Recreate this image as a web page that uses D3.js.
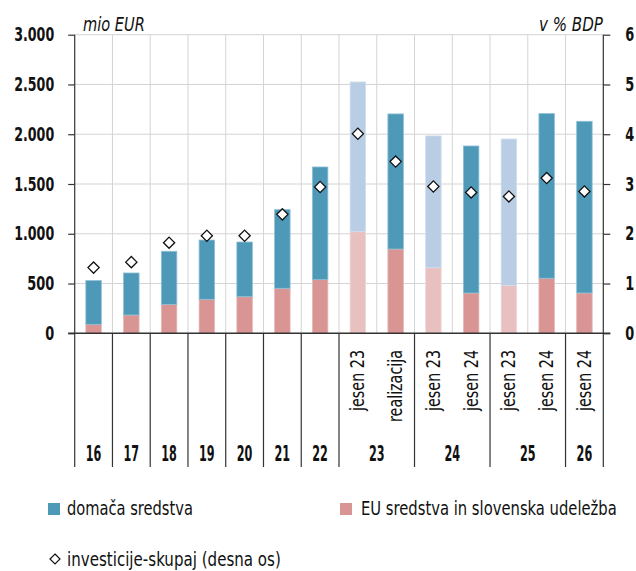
<!DOCTYPE html>
<html>
<head>
<meta charset="utf-8">
<script src="https://cdn.jsdelivr.net/npm/d3@7"></script>
<style>
  html, body { margin: 0; padding: 0; background: #fff; }
  svg { display: block; }
  text { font-family: "DejaVu Sans Condensed", "DejaVu Sans", sans-serif; font-stretch: condensed; fill: #111; }
</style>
</head>
<body>
<svg id="chart" width="636" height="571"></svg>
<script>
// ---- data ----
const barKeys = ["16","17","18","19","20","21","22","23a","23b","24a","24b","25a","25b","26"];
const subLabels = ["","","","","","","","jesen 23","realizacija","jesen 23","jesen 24","jesen 23","jesen 24","jesen 24"];
const groupLabels = ["16","17","18","19","20","21","22","23","24","25","26"];
const groupSizes  = [1,1,1,1,1,1,1,2,2,2,1];
const euFunds  = [90,184,291,342,368,452,539,1021,847,659,405,482,553,405];
const domestic = [440,422,533,595,549,790,1132,1504,1357,1324,1477,1470,1654,1725];
const investGDP = [1.32,1.43,1.82,1.96,1.96,2.39,2.94,4.01,3.45,2.95,2.83,2.75,3.12,2.85];
const olderForecast = [false,false,false,false,false,false,false,true,false,true,false,true,false,false];
const leftTicks = [0,500,1000,1500,2000,2500,3000];
const rightTicks = [0,1,2,3,4,5,6];
const seriesNames = ["domača sredstva","EU sredstva in slovenska udeležba","investicije-skupaj (desna os)"];

// ---- layout ----
const svg = d3.select("#chart");
const L = 74.7, R = 603.3, T = 34.7, B = 333.3, xBottom = 467;
const colBlue = "#4e98b8", colPink = "#d99594", colBlueLight = "#b9cde4", colPinkLight = "#e8c0c0";

// squeeze text horizontally (about its anchor) to the narrow width of the original condensed typeface
function digitWidth(s, dw, pw) {
  let w = 0;
  for (const c of s) w += (c === "." ? pw : dw);
  return w;
}
function squeeze(sel, w) {
  sel.each(function () {
    const n = this.getComputedTextLength();
    if (!n) return;
    const target = typeof w === "function" ? w.apply(this, arguments) : w;
    const s = target / n;
    const xa = +this.getAttribute("x") || 0;
    const ya = +this.getAttribute("y") || 0;
    const prev = this.getAttribute("transform") || "";
    this.setAttribute("transform", `${prev} translate(${xa},${ya}) scale(${s},1) translate(${-xa},${-ya})`.trim());
  });
}

const x = d3.scaleBand().domain(barKeys).range([L, R]).padding(0);
const y = d3.scaleLinear().domain([0, 3000]).range([B, T]);
const y2 = d3.scaleLinear().domain([0, 6]).range([B, T]);
const bw = x.bandwidth() * 0.41;

// grid
const grid = svg.append("g");
grid.selectAll("line.h").data(leftTicks.filter(d => d > 0)).join("line")
  .attr("x1", L).attr("x2", R).attr("y1", d => y(d)).attr("y2", d => y(d))
  .attr("stroke", "#d4d4d4").attr("stroke-width", 1);
grid.selectAll("line.v").data(barKeys.slice(1)).join("line")
  .attr("x1", d => x(d)).attr("x2", d => x(d)).attr("y1", T).attr("y2", B)
  .attr("stroke", "#d4d4d4").attr("stroke-width", 1);

// bars
const bars = svg.append("g");
barKeys.forEach((k, i) => {
  const cx = x(k) + x.bandwidth() / 2;
  const light = olderForecast[i];
  bars.append("rect")
    .attr("x", cx - bw / 2).attr("width", bw)
    .attr("y", y(euFunds[i])).attr("height", y(0) - y(euFunds[i]))
    .attr("fill", light ? colPinkLight : colPink)
    .attr("stroke", light ? "#f0d6d6" : "#e6b7b6").attr("stroke-width", 0.8);
  bars.append("rect")
    .attr("x", cx - bw / 2).attr("width", bw)
    .attr("y", y(euFunds[i] + domestic[i])).attr("height", y(euFunds[i]) - y(euFunds[i] + domestic[i]))
    .attr("fill", light ? colBlueLight : colBlue)
    .attr("stroke", light ? "#d0deee" : "#8cc0d6").attr("stroke-width", 0.8);
});

// axes
const yAxisL = d3.axisLeft(y).tickValues(leftTicks).tickSize(6.5).tickPadding(14)
  .tickFormat(d => d3.format(",")(d).replace(/,/g, "."));
const gL = svg.append("g").attr("transform", `translate(${L},0)`).call(yAxisL);
const yAxisR = d3.axisRight(y2).tickValues(rightTicks).tickSize(7).tickPadding(15)
  .tickFormat(d3.format("d"));
const gR = svg.append("g").attr("transform", `translate(${R},0)`).call(yAxisR);
[gL, gR].forEach(g => {
  g.attr("font-family", null).attr("font-size", null);
  g.select(".domain").remove();
  g.selectAll(".tick line").attr("stroke", "#333").attr("stroke-width", 1.2);
  g.selectAll(".tick text").attr("font-size", 19).attr("font-weight", "bold").attr("fill", "#111")
    .call(squeeze, function () { return digitWidth(this.textContent, 9, 4); });
});
// axis lines
svg.append("line").attr("x1", L).attr("x2", L).attr("y1", T).attr("y2", xBottom).attr("stroke", "#333").attr("stroke-width", 1.2);
svg.append("line").attr("x1", R).attr("x2", R).attr("y1", T).attr("y2", xBottom).attr("stroke", "#333").attr("stroke-width", 1.2);
svg.append("line").attr("x1", L - 6.5).attr("x2", R + 7).attr("y1", B).attr("y2", B).attr("stroke", "#333").attr("stroke-width", 1.4);

// group separators below axis
let idx = 0;
const groupInfo = groupLabels.map((g, gi) => {
  const start = x(barKeys[idx]);
  idx += groupSizes[gi];
  const end = idx < barKeys.length ? x(barKeys[idx]) : R;
  return { label: g, start, end };
});
svg.append("g").selectAll("line").data(groupInfo.slice(1)).join("line")
  .attr("x1", d => d.start).attr("x2", d => d.start).attr("y1", B).attr("y2", xBottom)
  .attr("stroke", "#333").attr("stroke-width", 1.2);
svg.append("g").selectAll("text").data(groupInfo).join("text")
  .attr("x", d => (d.start + d.end) / 2).attr("y", 461)
  .attr("text-anchor", "middle").attr("font-size", 22).attr("font-weight", 600)
  .text(d => d.label)
  .call(squeeze, d => d.label.length * 7.8);

// rotated sub labels
svg.append("g").selectAll("text").data(barKeys.map((k, i) => ({ k, t: subLabels[i] })).filter(d => d.t)).join("text")
  .attr("transform", d => `translate(${x(d.k) + x.bandwidth() / 2 + 6.5},350) rotate(-90)`)
  .attr("text-anchor", "end").attr("font-size", 19).text(d => d.t)
  .call(squeeze, d => d.t === "realizacija" ? 72 : 61);

// diamonds
const dh = 5.6;
svg.append("g").selectAll("path").data(barKeys.map((k, i) => ({ k, v: investGDP[i] }))).join("path")
  .attr("d", d => {
    const cx = x(d.k) + x.bandwidth() / 2, cy = y2(d.v);
    return `M${cx},${cy - dh}L${cx + dh},${cy}L${cx},${cy + dh}L${cx - dh},${cy}Z`;
  })
  .attr("fill", "#fff").attr("stroke", "#111").attr("stroke-width", 1.3);

// unit labels
svg.append("text").attr("x", 83).attr("y", 31).attr("font-size", 19).attr("font-style", "italic").text("mio EUR")
  .call(squeeze, 62);
svg.append("text").attr("x", 539).attr("y", 31).attr("font-size", 19).attr("font-style", "italic")
  .text("v % BDP").call(squeeze, 64);

// legend
const lg = svg.append("g");
lg.append("rect").attr("x", 48).attr("y", 503).attr("width", 12).attr("height", 12).attr("fill", colBlue);
lg.append("text").attr("x", 67).attr("y", 515).attr("font-size", 19).text(seriesNames[0]).call(squeeze, 126);
lg.append("rect").attr("x", 340).attr("y", 503).attr("width", 12).attr("height", 12).attr("fill", colPink);
lg.append("text").attr("x", 361).attr("y", 515).attr("font-size", 19).text(seriesNames[1]).call(squeeze, 256);
lg.append("path").attr("d", `M55,${559 - 5}L60,559L55,${559 + 5}L50,559Z`).attr("fill", "#fff").attr("stroke", "#111").attr("stroke-width", 1.2);
lg.append("text").attr("x", 67).attr("y", 566).attr("font-size", 19).text(seriesNames[2]).call(squeeze, 214);
</script>
</body>
</html>
